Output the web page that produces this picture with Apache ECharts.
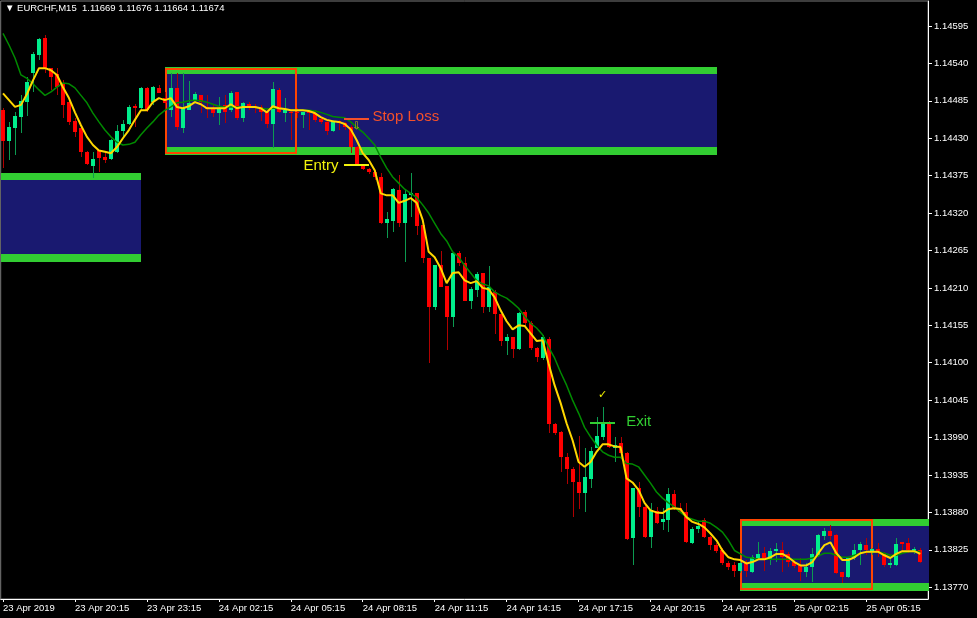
<!DOCTYPE html>
<html><head><meta charset="utf-8">
<script src="https://cdn.jsdelivr.net/npm/echarts@6/dist/echarts.min.js"></script>
<style>html,body{margin:0;padding:0;background:#000;}#c{width:977px;height:618px;}</style>
</head><body><div id="c"></div>
<script>
// ---- data ----
const openP = [
1.14471,1.14426,1.14445,1.14461,1.14483,1.14526,1.14552,1.14577,1.14533,1.14524,
1.14511,1.14483,1.14455,1.14445,1.14410,1.14389,1.14412,1.14402,1.14399,1.14410,
1.14440,1.14451,1.14477,1.14474,1.14504,1.14483,1.14504,1.14489,1.14471,1.14504,
1.14445,1.14471,1.14486,1.14493,1.14476,1.14474,1.14467,1.14479,1.14471,1.14498,
1.14460,1.14480,1.14477,1.14476,1.14468,1.14451,1.14501,1.14467,1.14468,1.14468,
1.14464,1.14470,1.14467,1.14458,1.14454,1.14440,1.14455,1.14452,1.14446,1.14417,
1.14389,1.14385,1.14380,1.14373,1.14305,1.14308,1.14354,1.14305,1.14346,1.14349,
1.14302,1.14254,1.14182,1.14243,1.14213,1.14167,1.14261,1.14246,1.14191,1.14207,
1.14232,1.14182,1.14204,1.14171,1.14132,1.14138,1.14120,1.14174,1.14158,1.14121,
1.14107,1.14135,1.14010,1.13998,1.13961,1.13944,1.13924,1.13908,1.13929,1.13974,
1.13991,1.14011,1.13974,1.13982,1.13967,1.13842,1.13916,1.13888,1.13844,1.13882,
1.13866,1.13869,1.13907,1.13886,1.13880,1.13835,1.13855,1.13869,1.13844,1.13832,
1.13824,1.13805,1.13802,1.13794,1.13805,1.13792,1.13813,1.13820,1.13810,1.13823,
1.13824,1.13819,1.13807,1.13802,1.13792,1.13800,1.13817,1.13845,1.13852,1.13847,
1.13792,1.13785,1.13813,1.13824,1.13832,1.13822,1.13826,1.13820,1.13802,1.13802,
1.13836,1.13835,1.13822,1.13824];
const highP = [
1.14474,1.14454,1.14468,1.14493,1.14520,1.14557,1.14577,1.14582,1.14533,1.14533,
1.14515,1.14487,1.14460,1.14446,1.14411,1.14410,1.14412,1.14408,1.14429,1.14449,
1.14457,1.14479,1.14480,1.14505,1.14505,1.14507,1.14508,1.14498,1.14526,1.14526,
1.14526,1.14514,1.14498,1.14493,1.14493,1.14479,1.14490,1.14493,1.14499,1.14498,
1.14483,1.14483,1.14480,1.14479,1.14474,1.14512,1.14504,1.14489,1.14471,1.14474,
1.14468,1.14471,1.14471,1.14460,1.14457,1.14457,1.14457,1.14454,1.14449,1.14418,
1.14390,1.14386,1.14383,1.14379,1.14321,1.14357,1.14376,1.14354,1.14379,1.14349,
1.14305,1.14254,1.14243,1.14264,1.14213,1.14261,1.14264,1.14255,1.14211,1.14233,
1.14232,1.14242,1.14207,1.14171,1.14142,1.14138,1.14174,1.14177,1.14161,1.14123,
1.14141,1.14138,1.14011,1.13999,1.13967,1.13947,1.13992,1.13974,1.13976,1.14020,
1.14035,1.14014,1.13991,1.13991,1.13969,1.13916,1.13924,1.13894,1.13894,1.13888,
1.13886,1.13916,1.13913,1.13894,1.13894,1.13858,1.13866,1.13872,1.13845,1.13835,
1.13827,1.13808,1.13807,1.13810,1.13810,1.13817,1.13836,1.13829,1.13827,1.13835,
1.13836,1.13822,1.13810,1.13813,1.13805,1.13827,1.13848,1.13857,1.13861,1.13848,
1.13792,1.13814,1.13833,1.13836,1.13842,1.13827,1.13835,1.13822,1.13814,1.13842,
1.13836,1.13842,1.13829,1.13827];
const lowP = [
1.14386,1.14398,1.14405,1.14437,1.14462,1.14498,1.14545,1.14526,1.14501,1.14493,
1.14460,1.14449,1.14432,1.14402,1.14390,1.14371,1.14380,1.14393,1.14398,1.14408,
1.14432,1.14449,1.14446,1.14471,1.14468,1.14479,1.14496,1.14471,1.14461,1.14442,
1.14437,1.14471,1.14483,1.14467,1.14460,1.14461,1.14449,1.14452,1.14468,1.14457,
1.14454,1.14471,1.14467,1.14455,1.14445,1.14415,1.14467,1.14454,1.14427,1.14460,
1.14445,1.14442,1.14454,1.14451,1.14435,1.14439,1.14442,1.14442,1.14408,1.14389,
1.14383,1.14377,1.14368,1.14304,1.14283,1.14292,1.14299,1.14248,1.14314,1.14288,
1.14246,1.14099,1.14177,1.14211,1.14118,1.14152,1.14242,1.14191,1.14179,1.14196,
1.14173,1.14174,1.14142,1.14124,1.14111,1.14107,1.14118,1.14152,1.14118,1.14101,
1.14104,1.13996,1.13994,1.13939,1.13922,1.13873,1.13885,1.13880,1.13916,1.13974,
1.13986,1.13974,1.13954,1.13961,1.13839,1.13802,1.13873,1.13842,1.13827,1.13863,
1.13854,1.13851,1.13883,1.13879,1.13835,1.13833,1.13849,1.13842,1.13824,1.13820,
1.13802,1.13795,1.13785,1.13791,1.13785,1.13791,1.13810,1.13794,1.13802,1.13807,
1.13792,1.13800,1.13798,1.13779,1.13785,1.13777,1.13814,1.13839,1.13839,1.13789,
1.13776,1.13783,1.13810,1.13802,1.13817,1.13817,1.13814,1.13800,1.13798,1.13801,
1.13820,1.13820,1.13819,1.13805];
const closeP = [
1.14426,1.14446,1.14462,1.14485,1.14512,1.14554,1.14576,1.14533,1.14520,1.14505,
1.14479,1.14454,1.14439,1.14410,1.14392,1.14399,1.14401,1.14398,1.14427,1.14440,
1.14451,1.14476,1.14474,1.14504,1.14471,1.14505,1.14496,1.14482,1.14504,1.14446,
1.14474,1.14482,1.14495,1.14483,1.14473,1.14467,1.14474,1.14468,1.14496,1.14460,
1.14482,1.14476,1.14474,1.14468,1.14451,1.14502,1.14468,1.14471,1.14467,1.14467,
1.14468,1.14467,1.14457,1.14454,1.14440,1.14455,1.14452,1.14446,1.14417,1.14392,
1.14385,1.14380,1.14373,1.14305,1.14311,1.14355,1.14305,1.14348,1.14349,1.14301,
1.14254,1.14182,1.14243,1.14211,1.14167,1.14261,1.14246,1.14191,1.14208,1.14230,
1.14182,1.14211,1.14171,1.14132,1.14138,1.14120,1.14173,1.14158,1.14121,1.14108,
1.14138,1.14010,1.13996,1.13961,1.13944,1.13924,1.13908,1.13932,1.13970,1.13992,
1.14013,1.13976,1.13979,1.13967,1.13841,1.13916,1.13888,1.13844,1.13883,1.13864,
1.13870,1.13907,1.13885,1.13880,1.13836,1.13855,1.13860,1.13844,1.13832,1.13823,
1.13805,1.13800,1.13794,1.13805,1.13794,1.13814,1.13819,1.13810,1.13823,1.13826,
1.13814,1.13807,1.13801,1.13792,1.13800,1.13819,1.13847,1.13852,1.13845,1.13791,
1.13785,1.13813,1.13824,1.13833,1.13824,1.13826,1.13820,1.13802,1.13805,1.13833,
1.13833,1.13824,1.13826,1.13807];
const fastMA = [
1.14496,1.14486,1.14476,1.14479,1.14495,1.14515,1.14533,1.14533,1.14530,1.14523,
1.14505,1.14489,1.14468,1.14449,1.14432,1.14420,1.14412,1.14410,1.14408,1.14417,
1.14430,1.14442,1.14457,1.14471,1.14471,1.14483,1.14489,1.14486,1.14489,1.14476,
1.14474,1.14477,1.14483,1.14480,1.14474,1.14474,1.14474,1.14474,1.14480,1.14474,
1.14476,1.14476,1.14476,1.14474,1.14468,1.14477,1.14474,1.14473,1.14471,1.14471,
1.14471,1.14470,1.14467,1.14461,1.14457,1.14455,1.14454,1.14451,1.14443,1.14427,
1.14408,1.14398,1.14383,1.14349,1.14346,1.14346,1.14335,1.14338,1.14342,1.14335,
1.14310,1.14263,1.14255,1.14239,1.14217,1.14232,1.14233,1.14221,1.14217,1.14220,
1.14210,1.14208,1.14196,1.14177,1.14161,1.14149,1.14155,1.14154,1.14143,1.14132,
1.14133,1.14099,1.14067,1.14041,1.14011,1.13986,1.13954,1.13947,1.13954,1.13969,
1.13980,1.13980,1.13977,1.13976,1.13930,1.13924,1.13913,1.13894,1.13883,1.13880,
1.13879,1.13885,1.13886,1.13885,1.13873,1.13866,1.13863,1.13858,1.13849,1.13839,
1.13824,1.13814,1.13811,1.13810,1.13805,1.13807,1.13811,1.13811,1.13814,1.13819,
1.13819,1.13814,1.13807,1.13802,1.13802,1.13807,1.13820,1.13832,1.13836,1.13820,
1.13810,1.13810,1.13814,1.13820,1.13822,1.13822,1.13822,1.13817,1.13813,1.13819,
1.13823,1.13823,1.13823,1.13819];
const slowMA = [
1.14584,1.14567,1.14548,1.14523,1.14518,1.14510,1.14501,1.14493,1.14498,1.14505,
1.14511,1.14510,1.14504,1.14493,1.14482,1.14467,1.14454,1.14442,1.14432,1.14424,
1.14420,1.14421,1.14424,1.14435,1.14445,1.14454,1.14464,1.14471,1.14476,1.14482,
1.14483,1.14485,1.14486,1.14485,1.14483,1.14480,1.14477,1.14476,1.14476,1.14476,
1.14476,1.14476,1.14476,1.14474,1.14473,1.14474,1.14474,1.14473,1.14471,1.14471,
1.14471,1.14471,1.14470,1.14468,1.14465,1.14462,1.14461,1.14460,1.14454,1.14446,
1.14439,1.14430,1.14420,1.14402,1.14386,1.14373,1.14364,1.14355,1.14349,1.14343,
1.14332,1.14320,1.14305,1.14290,1.14279,1.14263,1.14255,1.14243,1.14232,1.14221,
1.14216,1.14213,1.14204,1.14199,1.14195,1.14188,1.14180,1.14168,1.14158,1.14151,
1.14141,1.14123,1.14107,1.14086,1.14067,1.14045,1.14026,1.14005,1.13991,1.13979,
1.13969,1.13964,1.13961,1.13961,1.13952,1.13951,1.13947,1.13935,1.13923,1.13910,
1.13901,1.13894,1.13888,1.13880,1.13873,1.13870,1.13867,1.13867,1.13864,1.13858,
1.13851,1.13839,1.13824,1.13819,1.13814,1.13813,1.13811,1.13811,1.13811,1.13811,
1.13811,1.13811,1.13811,1.13811,1.13811,1.13813,1.13816,1.13820,1.13820,1.13817,
1.13814,1.13814,1.13817,1.13820,1.13822,1.13822,1.13822,1.13820,1.13817,1.13817,
1.13820,1.13822,1.13823,1.13822];

// time axis labels (bar index -> label)
const timeTickBars = [0,12,24,36,48,60,72,84,96,108,120,132,144];
const timeTickLabels = ["23 Apr 2019","23 Apr 20:15","23 Apr 23:15","24 Apr 02:15","24 Apr 05:15","24 Apr 08:15","24 Apr 11:15","24 Apr 14:15","24 Apr 17:15","24 Apr 20:15","24 Apr 23:15","25 Apr 02:15","25 Apr 05:15"];
// price axis ticks
const priceTicks = [1.13770,1.13825,1.13880,1.13935,1.13990,1.14045,1.14100,1.14155,1.14210,1.14265,1.14320,1.14375,1.14430,1.14485,1.14540,1.14595];
const priceTickLabels = ["1.13770","1.13825","1.13880","1.13935","1.13990","1.14045","1.14100","1.14155","1.14210","1.14265","1.14320","1.14375","1.14430","1.14485","1.14540","1.14595"];

// supply / demand zones (bar index span, price span)
const zoneStart = [-0.4, 26.95, 122.95];
const zoneEnd = [22.95, 119.1, 154.4];
const zoneTop = [1.14379, 1.14535, 1.13870];
const zoneBottom = [1.14248, 1.14405, 1.13764];
// range boxes (orange outlines)
const boxStart = [26.95, 122.95];
const boxEnd = [49.12, 145.12];
const boxTop = [1.14533, 1.13870];
const boxBottom = [1.14407, 1.13766];
// trade annotations
const annoText = ["Stop Loss", "Entry", "Exit"];
const annoStart = [56.95, 56.95, 97.95];
const annoEnd = [61.12, 61.12, 102.12];
const annoPrice = [1.14458, 1.14391, 1.14012];
// small markers
const markerGlyph = ["\u2713", "\u21E9"];
const markerBar = [100.0, 58.95];
const markerPrice = [1.14052, 1.14447];

// ---- styles ----
const annoStyle = [
  {color:'#f4502a', align:'left', dx:3, dy:-2},
  {color:'#f2f20c', align:'right', dx:-6, dy:1},
  {color:'#32cd32', align:'left', dx:11, dy:-1}
];
const markerStyle = [{color:'#f0f000', size:11},{color:'#c8c000', size:10}];
const FONT = '"Liberation Sans", Arial, sans-serif';

const chart = echarts.init(document.getElementById('c'));
const candleData = openP.map((o,i)=>[i, o, closeP[i], lowP[i], highP[i]]);
const zoneData = zoneStart.map((s,i)=>[s, zoneEnd[i], zoneTop[i], zoneBottom[i]]);
const boxData = boxStart.map((s,i)=>[s, boxEnd[i], boxTop[i], boxBottom[i]]);
const annoData = annoText.map((t,i)=>[annoStart[i], annoEnd[i], annoPrice[i], i]);
const markerData = markerGlyph.map((g,i)=>[markerBar[i], markerPrice[i], i]);

function renderZone(params, api){
  const a = api.coord([api.value(0), api.value(2)]);
  const b = api.coord([api.value(1), api.value(3)]);
  const l = Math.round(a[0]), r = Math.round(b[0]), t = Math.round(a[1]), bt = Math.round(b[1]);
  return {type:'group', children:[
    {type:'rect', shape:{x:l, y:t, width:r-l, height:bt-t}, style:{fill:'#191970'}},
    {type:'rect', shape:{x:l, y:t, width:r-l, height:7}, style:{fill:'#32cd32'}},
    {type:'rect', shape:{x:l, y:bt-8, width:r-l, height:8}, style:{fill:'#32cd32'}}
  ]};
}
function renderBox(params, api){
  const a = api.coord([api.value(0), api.value(2)]);
  const b = api.coord([api.value(1), api.value(3)]);
  const l = Math.round(a[0]), r = Math.round(b[0]), t = Math.round(a[1]), bt = Math.round(b[1]);
  return {type:'rect', shape:{x:l+1, y:t+1, width:r-l-2, height:bt-t-2},
    style:{fill:null, stroke:'#ff4500', lineWidth:2}};
}
function renderCandle(params, api){
  const i = api.value(0);
  const o = api.coord([i, api.value(1)]), c = api.coord([i, api.value(2)]);
  const lo = api.coord([i, api.value(3)]), hi = api.coord([i, api.value(4)]);
  const up = api.value(2) >= api.value(1);
  const cx = Math.round(o[0]);
  const top = Math.round(Math.min(o[1], c[1])), bot = Math.round(Math.max(o[1], c[1]));
  const ht = Math.round(hi[1]), lt = Math.round(lo[1]);
  return {type:'group', children:[
    {type:'rect', shape:{x:cx, y:ht, width:1, height:Math.max(1, lt-ht)}, style:{fill: up ? '#0c9a50' : '#b00000'}},
    {type:'rect', shape:{x:cx-2, y:top, width:4, height:Math.max(1, bot-top)}, style:{fill: up ? '#00ee8c' : '#ff0000'}}
  ]};
}
function renderAnno(params, api){
  const k = api.value(3);
  const a = api.coord([api.value(0), api.value(2)]);
  const b = api.coord([api.value(1), api.value(2)]);
  const st = annoStyle[k];
  const y = Math.round(a[1]);
  const tx = st.align === 'left' ? b[0] + st.dx : a[0] + st.dx;
  return {type:'group', children:[
    {type:'rect', shape:{x:Math.round(a[0]), y:y-1, width:Math.round(b[0]-a[0]), height:2}, style:{fill:st.color}},
    {type:'text', x:tx, y:y+st.dy, style:{text:annoText[k], fill:st.color, font:'15px '+FONT, align:st.align, verticalAlign:'middle'}}
  ]};
}
function renderMarker(params, api){
  const k = api.value(2);
  const p = api.coord([api.value(0), api.value(1)]);
  const st = markerStyle[k];
  return {type:'text', x:p[0], y:p[1], style:{text:markerGlyph[k], fill:st.color, font:st.size+'px "DejaVu Sans", sans-serif', align:'center', verticalAlign:'middle'}};
}

chart.setOption({
  animation:false,
  backgroundColor:'#000000',
  grid:{left:0, right:49, top:1, bottom:19, show:true, borderColor:'#7a7a7a', borderWidth:1},
  graphic:[{type:'text', left:5, top:3, style:{text:'\u25BC EURCHF,M15  1.11669 1.11676 1.11664 1.11674', fill:'#ffffff', font:'9.5px '+FONT}}],
  xAxis:{type:'value', min:-0.3833, max:154.283,
    axisLine:{show:true, onZero:false, lineStyle:{color:'#ffffff', width:1}},
    axisTick:{show:true, customValues:timeTickBars, length:3, lineStyle:{color:'#ffffff'}},
    axisLabel:{customValues:timeTickBars, color:'#ffffff', fontSize:9.5, fontFamily:'Liberation Sans', align:'left', margin:4,
      formatter:(v)=>{const j=timeTickBars.indexOf(Math.round(v)); return j>=0?timeTickLabels[j]:'';}},
    splitLine:{show:false}},
  yAxis:{type:'value', position:'right', min:1.137527, max:1.146317, scale:true,
    axisLine:{show:true, onZero:false, lineStyle:{color:'#ffffff', width:1}},
    axisTick:{show:true, customValues:priceTicks, length:4, lineStyle:{color:'#ffffff'}},
    axisLabel:{customValues:priceTicks, color:'#ffffff', fontSize:9.5, fontFamily:'Liberation Sans', margin:6,
      formatter:(v)=>{let j=0,d=1;priceTicks.forEach((p,i)=>{if(Math.abs(p-v)<d){d=Math.abs(p-v);j=i;}});return priceTickLabels[j];}},
    splitLine:{show:false}},
  series:[
    {type:'custom', name:'zones', renderItem:renderZone, data:zoneData, encode:{x:[0,1], y:[2,3]}, clip:true, silent:true, z:1},
    {type:'custom', name:'boxes', renderItem:renderBox, data:boxData, encode:{x:[0,1], y:[2,3]}, clip:true, silent:true, z:2},
    {type:'custom', name:'EURCHF', renderItem:renderCandle, data:candleData, encode:{x:0, y:[1,2,3,4]}, clip:true, silent:true, z:3},
    {type:'line', name:'slow', data:slowMA.map((v,i)=>[i,v]), showSymbol:false, symbol:'none', silent:true, z:4,
      lineStyle:{color:'#008a00', width:1.5}},
    {type:'line', name:'fast', data:fastMA.map((v,i)=>[i,v]), showSymbol:false, symbol:'none', silent:true, z:5,
      lineStyle:{color:'#ffd700', width:2}},
    {type:'custom', name:'annotations', renderItem:renderAnno, data:annoData, encode:{x:[0,1], y:2}, clip:false, silent:true, z:6},
    {type:'custom', name:'markers', renderItem:renderMarker, data:markerData, encode:{x:0, y:1}, clip:false, silent:true, z:6}
  ]
});
</script>
</body></html>
